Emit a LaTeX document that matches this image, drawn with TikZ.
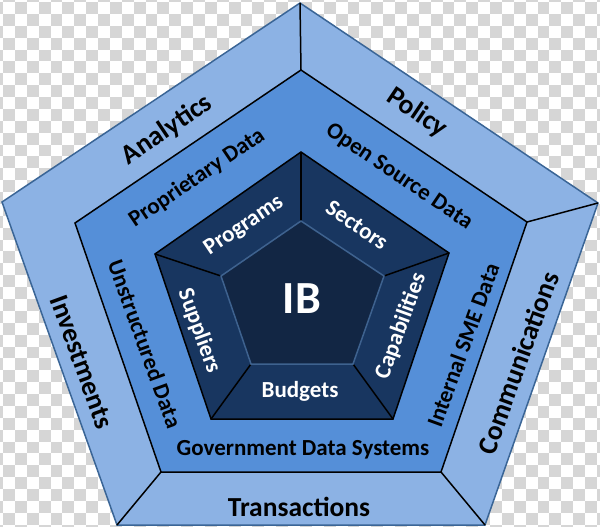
\documentclass[tikz,border=0pt]{standalone}
\usepackage{fontspec}
\setmainfont{Carlito}
\definecolor{outerblue}{HTML}{8CB2E4}
\definecolor{outeredge}{HTML}{3A6596}
\definecolor{midblue}{HTML}{558FD8}
\definecolor{innerblue}{HTML}{183660}
\definecolor{coreblue}{HTML}{122644}
\definecolor{coreedge}{HTML}{3E628F}
\definecolor{chk}{HTML}{D6D6D6}
\tikzset{
  spoke/.style={draw=black,line width=1.5pt},
  lab/.style={font=\bfseries,inner sep=0pt,text=#1},
  lab/.default=black,
  big/.style={lab,font=\fontsize{27.5}{27.5}\bfseries\selectfont},
  mid/.style={lab,font=\fontsize{23}{23}\bfseries\selectfont},
  wee/.style={lab=white,font=\fontsize{23}{23}\bfseries\selectfont},
}
\begin{document}
\begin{tikzpicture}[x=1pt,y=-1pt]
\useasboundingbox (0,0) rectangle (600,527);
\fill[white] (0,0) rectangle (600,527);
\begin{scope}
\clip (0,0) rectangle (600,527);
\foreach \i in {-1,...,50}{\foreach \j in {-1,...,44}{
  \pgfmathtruncatemacro{\odd}{mod(\i+\j+200,2)}
  \ifnum\odd=1
    \fill[chk] ({3+11.88*\i},{2+11.88*\j}) rectangle ++(11.88,11.88);
  \fi
}}
\end{scope}
% vertices
\coordinate (o1) at (300,3);  \coordinate (o2) at (598,203); \coordinate (o3) at (485,525); \coordinate (o4) at (117,525); \coordinate (o5) at (2,202);
\coordinate (m1) at (301,70); \coordinate (m2) at (527,222); \coordinate (m3) at (441,472); \coordinate (m4) at (161,472); \coordinate (m5) at (75,223);
\coordinate (n1) at (301,152);\coordinate (n2) at (449,253); \coordinate (n3) at (393,419); \coordinate (n4) at (211,419); \coordinate (n5) at (155,254);
\coordinate (c1) at (301,221);\coordinate (c2) at (384,276); \coordinate (c3) at (353,364); \coordinate (c4) at (251,364); \coordinate (c5) at (221,276);
% layers
\filldraw[fill=outerblue,draw=outeredge,line width=1.5pt,line join=miter] (o1)--(o2)--(o3)--(o4)--(o5)--cycle;
\foreach \a/\b in {o1/m1,o2/m2,o3/m3,o4/m4}{\draw[spoke] (\a)--(\b);}
\filldraw[fill=midblue,draw=black,line width=1.5pt] (m1)--(m2)--(m3)--(m4)--(m5)--cycle;
\filldraw[fill=innerblue,draw=black,line width=1.5pt] (n1)--(n2)--(n3)--(n4)--(n5)--cycle;
\foreach \a/\b in {n1/c1,n2/c2,n3/c3,n4/c4,n5/c5}{\draw[spoke] (\a)--(\b);}
\filldraw[fill=coreblue,draw=coreedge,line width=1.5pt] (c1)--(c2)--(c3)--(c4)--(c5)--cycle;
% labels
\node[big,rotate=34] (analytics) at (167,130) {Analytics};
\node[big,rotate=-34] (policy) at (417,113) {Policy};
\node[big,rotate=70] (comm) at (518,363) {Communications};
\node[big] (trans) at (299,507) {Transactions};
\node[big,rotate=-70] (invest) at (82,362) {Investments};
\node[mid,rotate=34] (prop) at (197,178) {Proprietary Data};
\node[mid,rotate=-34] (open) at (399,177) {Open Source Data};
\node[mid,rotate=70] (sme) at (463,345) {Internal SME Data};
\node[mid] (gov) at (303,450) {Government Data Systems};
\node[mid,rotate=-70] (unstr) at (145,344) {Unstructured Data};
\node[wee,rotate=34] (prog) at (244,226) {Programs};
\node[wee,rotate=-34] (sect) at (357,225) {Sectors};
\node[wee,rotate=70] (capa) at (401,326) {Capabilities};
\node[wee] (budg) at (300,391) {Budgets};
\node[wee,rotate=-70] (supp) at (199,331) {Suppliers};
\node[lab=white,font=\fontsize{46}{46}\bfseries\selectfont] (ib) at (302,299) {IB};
\end{tikzpicture}
\end{document}
